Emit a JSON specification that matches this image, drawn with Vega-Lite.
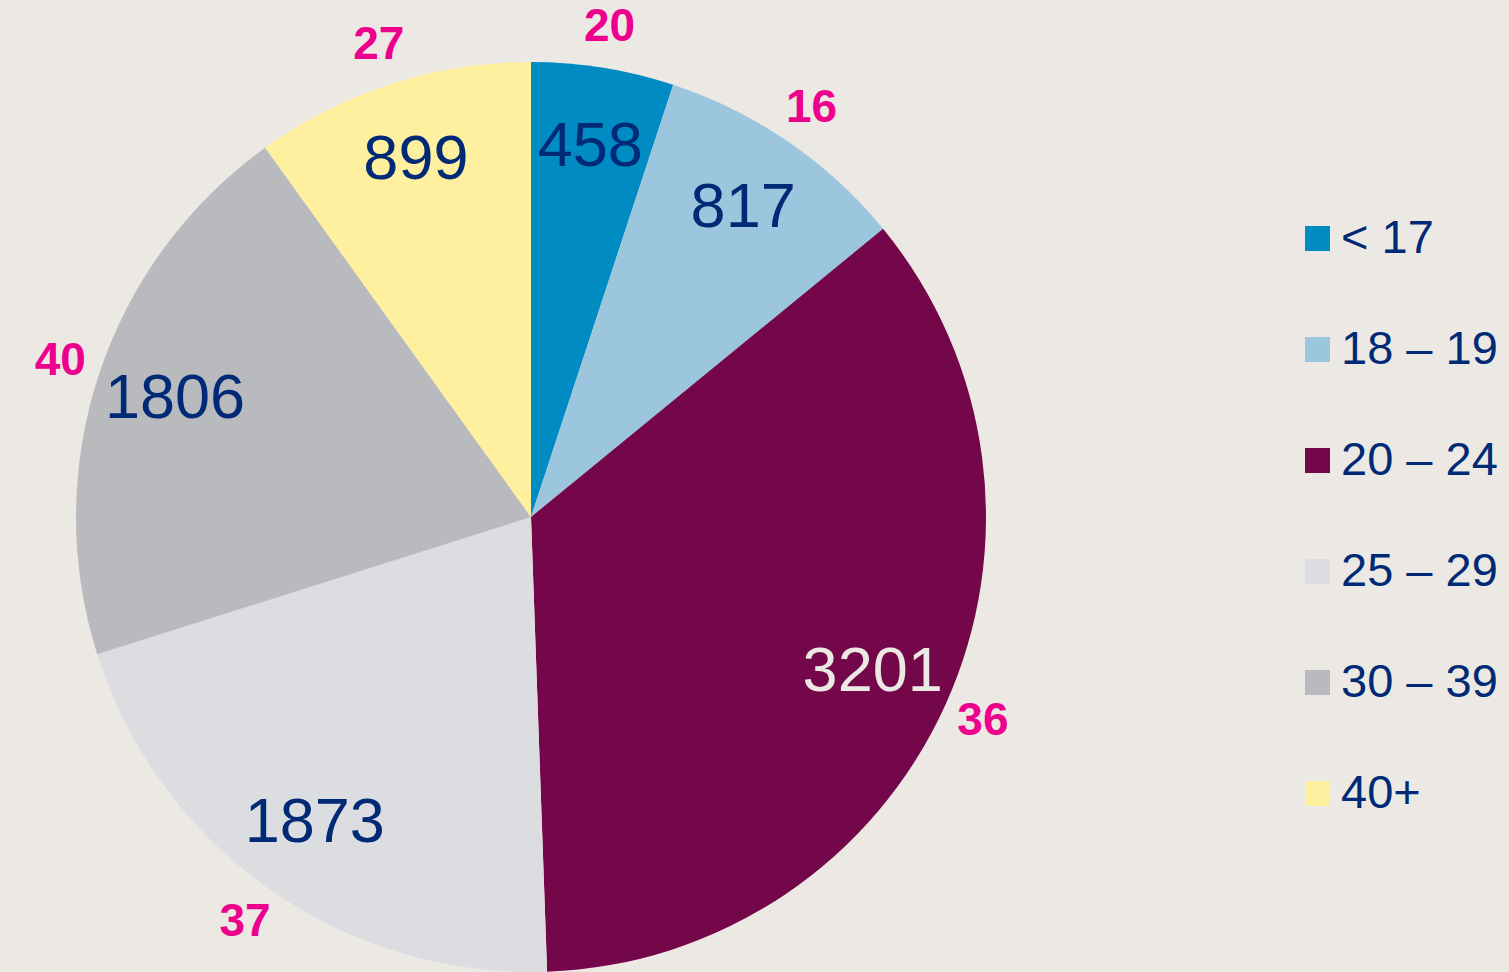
{
  "$schema": "https://vega.github.io/schema/vega-lite/v6.json",
  "width": 1062,
  "height": 910,
  "autosize": {"type": "none"},
  "padding": {"left": 0, "top": 62, "right": 447, "bottom": 0},
  "background": "#ece9e5",
  "config": {"view": {"stroke": null}, "font": "Liberation Sans"},
  "data": {
    "values": [
      {"group": "< 17", "count": 458, "pct": 20, "order": 1},
      {"group": "18 – 19", "count": 817, "pct": 16, "order": 2},
      {"group": "20 – 24", "count": 3201, "pct": 36, "order": 3},
      {"group": "25 – 29", "count": 1873, "pct": 37, "order": 4},
      {"group": "30 – 39", "count": 1806, "pct": 40, "order": 5},
      {"group": "40+", "count": 899, "pct": 27, "order": 6}
    ]
  },
  "encoding": {
    "theta": {"field": "count", "type": "quantitative", "stack": true},
    "order": {"field": "order", "type": "quantitative"}
  },
  "layer": [
    {
      "mark": {"type": "arc", "outerRadius": 455},
      "encoding": {
        "color": {
          "field": "group",
          "type": "nominal",
          "sort": null,
          "scale": {
            "domain": ["< 17", "18 – 19", "20 – 24", "25 – 29", "30 – 39", "40+"],
            "range": ["#008bc2", "#9bc6de", "#74074a", "#dcdde0", "#b9babd", "#fff0a0"]
          },
          "legend": {
            "orient": "none",
            "legendX": 1294,
            "legendY": 153,
            "title": null,
            "symbolType": "square",
            "symbolSize": 625,
            "symbolStrokeWidth": 0,
            "symbolOpacity": 1,
            "labelFontSize": 47,
            "labelColor": "#002a76",
            "labelFont": "Liberation Sans",
            "labelOffset": 0,
            "rowPadding": 63,
            "labelLimit": 400
          }
        }
      }
    },
    {
      "mark": {"type": "text", "radius": 375, "fontSize": 63, "font": "Liberation Sans", "baseline": "middle", "align": "center"},
      "encoding": {
        "text": {"field": "count", "type": "quantitative"},
        "color": {
          "condition": {"test": "datum.group === '20 – 24'", "value": "#ece9e5"},
          "value": "#002a76"
        }
      }
    },
    {
      "mark": {"type": "text", "radius": 496, "fontSize": 46, "fontWeight": "bold", "font": "Liberation Sans", "baseline": "middle", "align": "center", "color": "#ec008c"},
      "encoding": {
        "text": {"field": "pct", "type": "quantitative"}
      }
    }
  ]
}
